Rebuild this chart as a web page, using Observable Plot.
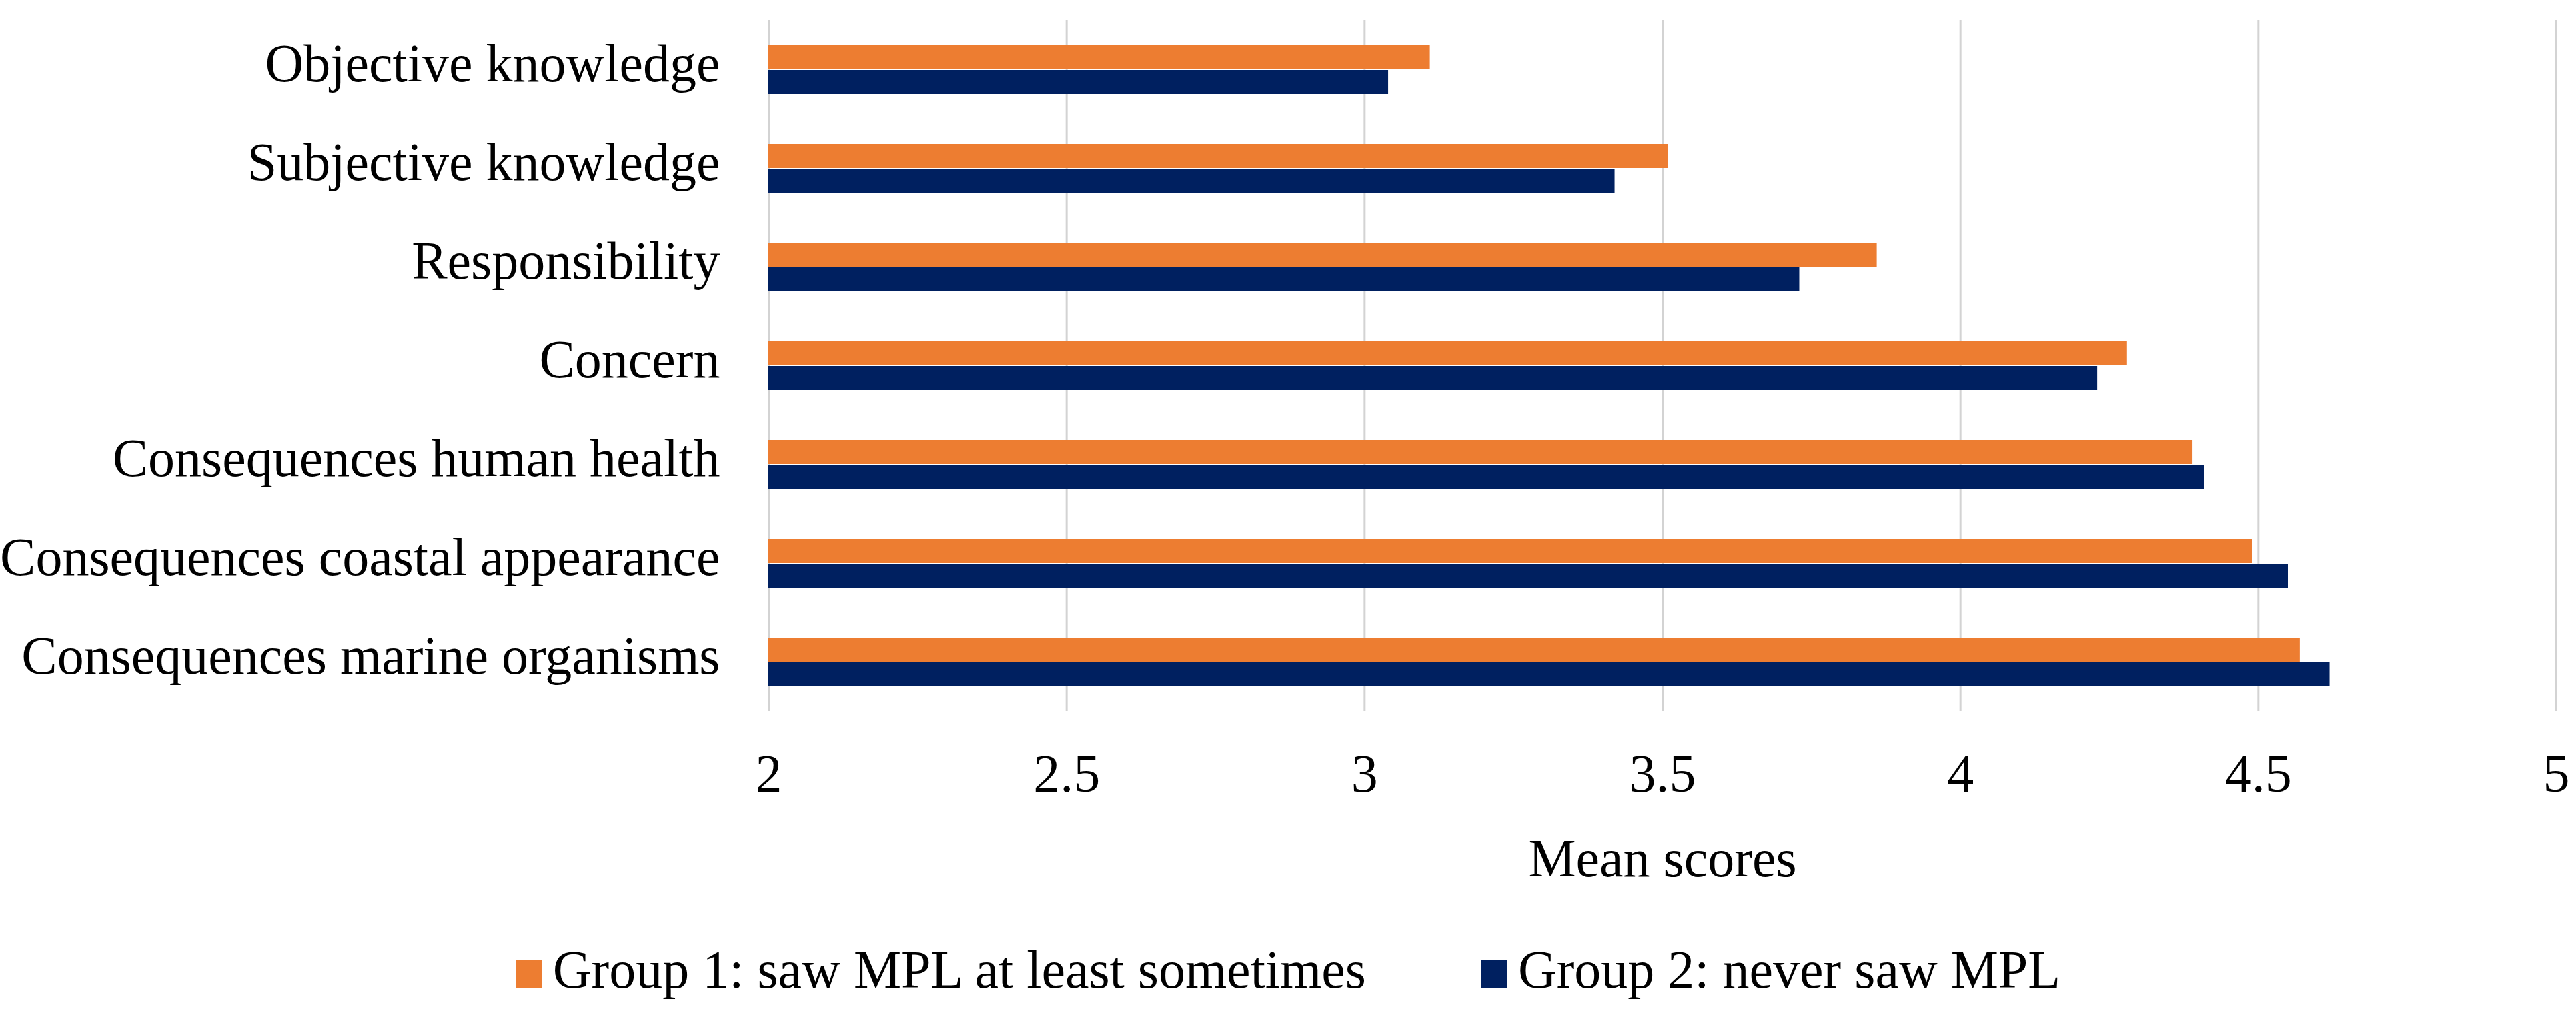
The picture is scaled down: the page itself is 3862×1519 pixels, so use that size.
<!DOCTYPE html>
<html>
<head>
<meta charset="utf-8">
<script src="https://cdn.jsdelivr.net/npm/d3@7"></script>
<script src="https://cdn.jsdelivr.net/npm/@observablehq/plot@0.6"></script>
<style>
  html, body { margin: 0; padding: 0; background: #fff; }
  body { width: 3862px; height: 1519px; overflow: hidden; font-family: "Liberation Serif", "Times New Roman", serif; }
  #legend { display: flex; justify-content: center; align-items: center; height: 80px; margin-top: 74px; font-size: 80px; line-height: 80px; color: #000; }
  .item { display: flex; align-items: center; white-space: nowrap; }
  .item + .item { margin-left: 172px; }
  .sw { width: 40px; height: 41px; margin-right: 16px; position: relative; top: 6px; }
</style>
</head>
<body>
<div id="chart"></div>
<div id="legend"></div>
<script>
const categories = [
  "Objective knowledge",
  "Subjective knowledge",
  "Responsibility",
  "Concern",
  "Consequences human health",
  "Consequences coastal appearance",
  "Consequences marine organisms"
];
const groups = ["Group 1: saw MPL at least sometimes", "Group 2: never saw MPL"];
const group1Values = [3.11, 3.51, 3.86, 4.28, 4.39, 4.49, 4.57];
const group2Values = [3.04, 3.42, 3.73, 4.23, 4.41, 4.55, 4.62];
const xDomain = [2, 5];
const xTicks = [2, 2.5, 3, 3.5, 4, 4.5, 5];
const xLabel = "Mean scores";
const colors = ["#ED7D31", "#002060"];

const rows = categories.flatMap((c, i) => [
  {category: c, group: groups[0], value: group1Values[i]},
  {category: c, group: groups[1], value: group2Values[i]}
]);

const chart = Plot.plot({
  width: 3862,
  height: 1340,
  marginLeft: 1152,
  marginRight: 30,
  marginTop: 27,
  marginBottom: 272,
  style: {fontFamily: "'Liberation Serif', 'Times New Roman', serif", fontSize: "80px", color: "#000", background: "#fff"},
  x: {domain: xDomain},
  y: {domain: groups, paddingInner: 0.03, paddingOuter: 1, axis: null},
  fy: {domain: categories, padding: 0},
  color: {domain: groups, range: colors},
  marks: [
    Plot.gridX(xTicks, {stroke: "#d3d3d3", strokeOpacity: 1, strokeWidth: 3}),
    Plot.barX(rows, {fy: "category", y: "group", x1: d => xDomain[0], x2: "value", fill: "group"}),
    Plot.axisX({ticks: xTicks, tickFormat: d => String(d), tickSize: 0, tickPadding: 64, label: xLabel, labelArrow: "none", labelAnchor: "center", labelOffset: 247}),
    Plot.axisFy({anchor: "left", tickSize: 0, tickPadding: 73, label: null, dy: -8})
  ]
});
document.getElementById("chart").appendChild(chart);

const legend = document.getElementById("legend");
groups.forEach((g, i) => {
  const item = document.createElement("div");
  item.className = "item";
  const sw = document.createElement("span");
  sw.className = "sw";
  sw.style.background = colors[i];
  const t = document.createElement("span");
  t.textContent = g;
  item.appendChild(sw);
  item.appendChild(t);
  legend.appendChild(item);
});
</script>
</body>
</html>
